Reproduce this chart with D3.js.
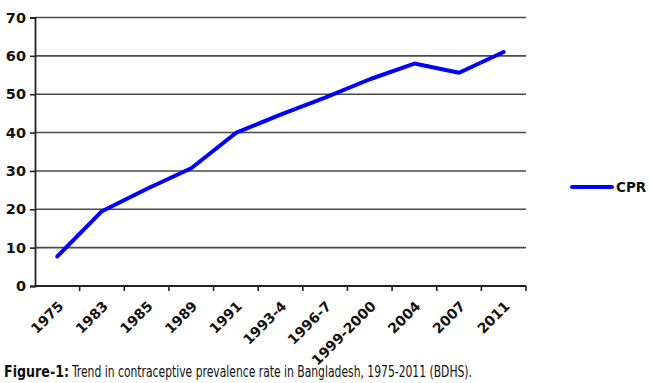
<!DOCTYPE html>
<html><head><meta charset="utf-8">
<script src="https://cdn.jsdelivr.net/npm/d3@7"></script>
<style>
html,body{margin:0;padding:0;background:#fff;}
svg{display:block;}
</style></head>
<body>
<svg id="c" width="650" height="383"></svg>
<script>
const categories = ["1975","1983","1985","1989","1991","1993-4","1996-7","1999-2000","2004","2007","2011"];
const cprValues = [7.7, 19.5, 25.3, 30.7, 39.9, 44.7, 49.1, 53.9, 58.0, 55.6, 61.0];
const yTicks = [0,10,20,30,40,50,60,70];
const seriesName = "CPR";
const captionBold = "Figure-1:";
const captionText = "Trend in contraceptive prevalence rate in Bangladesh, 1975-2011 (BDHS).";

(function(){
const svg = d3.select("#c");
const pLeft = 35, pRight = 526, pTop = 17.5, pBottom = 286;

const x = d3.scaleBand().domain(categories).range([pLeft, pRight]);
const y = d3.scaleLinear().domain([0, 70]).range([pBottom, pTop]);

// gridlines
svg.append("g").selectAll("line").data(yTicks.filter(d => d > 0)).join("line")
  .attr("x1", pLeft).attr("x2", pRight)
  .attr("y1", d => y(d)).attr("y2", d => y(d))
  .attr("stroke", "#4a4a4a").attr("stroke-width", 1.6);

// y axis
const yAxis = svg.append("g").attr("transform", `translate(${pLeft},0)`)
  .call(d3.axisLeft(y).tickValues(yTicks).tickSize(5).tickPadding(4));
yAxis.select(".domain").attr("stroke", "#222").attr("stroke-width", 1.8);
yAxis.selectAll(".tick line").attr("stroke", "#222").attr("stroke-width", 1.6);
yAxis.selectAll(".tick text").attr("font-family", "DejaVu Sans").attr("font-weight", "bold")
  .attr("font-size", 14.5).attr("fill", "#111");

// x axis
svg.append("line").attr("x1", pLeft).attr("x2", pRight).attr("y1", pBottom).attr("y2", pBottom)
  .attr("stroke", "#222").attr("stroke-width", 1.8);
const bounds = categories.map(c => x(c) + x.bandwidth());
svg.append("g").selectAll("line").data(bounds).join("line")
  .attr("x1", d => d).attr("x2", d => d).attr("y1", pBottom).attr("y2", pBottom + 5)
  .attr("stroke", "#222").attr("stroke-width", 1.6);

svg.append("g").selectAll("text").data(categories).join("text")
  .attr("transform", d => `translate(${x(d) + x.bandwidth()/2 + 7},${pBottom + 21}) rotate(-45)`)
  .attr("text-anchor", "end")
  .attr("font-family", "DejaVu Sans").attr("font-weight", "bold").attr("font-size", 14)
  .attr("fill", "#111")
  .text(d => d);

// line
const line = d3.line().x((d, i) => x(categories[i]) + x.bandwidth()/2).y(d => y(d));
svg.append("path").datum(cprValues).attr("d", line)
  .attr("fill", "none").attr("stroke", "#0000ff").attr("stroke-width", 4)
  .attr("stroke-linejoin", "round").attr("stroke-linecap", "round");

// legend
svg.append("line").attr("x1", 572).attr("x2", 612).attr("y1", 187).attr("y2", 187)
  .attr("stroke", "#0000ff").attr("stroke-width", 4).attr("stroke-linecap", "round");
svg.append("text").attr("x", 616).attr("y", 192).text(seriesName)
  .attr("font-family", "DejaVu Sans").attr("font-weight", "bold").attr("font-size", 13.5).attr("fill", "#111");

// caption
svg.append("text").attr("x", 4).attr("y", 377).text(captionBold)
  .attr("font-family", "'Liberation Sans Narrow', 'DejaVu Sans Condensed', sans-serif")
  .attr("font-weight", "bold").attr("font-size", 16).attr("fill", "#111")
  .attr("textLength", 65).attr("lengthAdjust", "spacingAndGlyphs");
svg.append("text").attr("x", 72).attr("y", 377).text(captionText)
  .attr("font-family", "'Liberation Sans Narrow', 'DejaVu Sans Condensed', sans-serif")
  .attr("font-size", 16).attr("fill", "#111")
  .attr("textLength", 400).attr("lengthAdjust", "spacingAndGlyphs");
})();
</script>
</body></html>
